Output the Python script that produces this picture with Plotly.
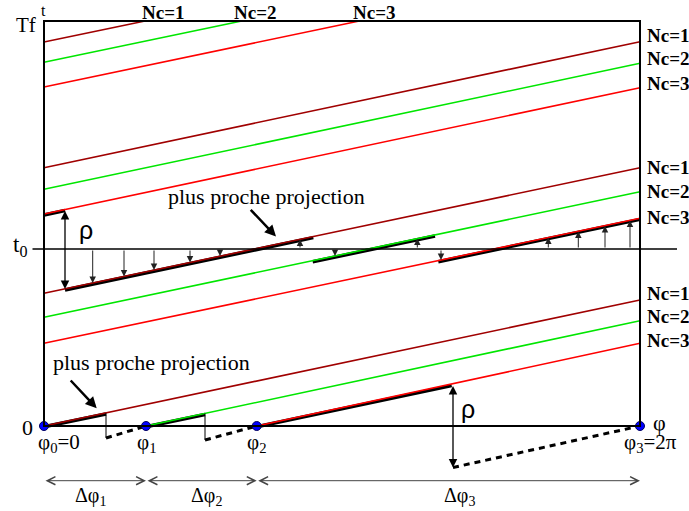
import plotly.graph_objects as go

# diagram units: phi runs 0..PHI_MAX (= 2 pi), t runs 0..TF
PHI_MAX = 596
TF = 405
T0 = 177

nc_names = ["Nc=1", "Nc=2", "Nc=3"]
nc_colors = ["#a00000", "#00e600", "#ff0000"]

# branches t(phi) for each Nc, they wrap round in t
line_nc = [0, 0, 0, 0, 1, 1, 1, 1, 2, 2, 2, 2]
line_phi_a = [0, 0, 0, 0, 102, 0, 0, 0, 212.7, 0, 0, 0]
line_t_a = [0, 132.7, 258.3, 384, 0, 108.7, 236.7, 363.7, 0, 82.7, 212, 339]
line_phi_b = [596, 596, 596, 101, 596, 596, 596, 197.7, 596, 596, 596, 315.3]
line_t_b = [126, 258.3, 384.3, 405, 105.3, 234.3, 362.7, 405, 82.7, 207.7, 338.3, 405]

# closest projection pieces (thick black, sitting just under the branch)
proj_phi_a = [0, 21, 268.7, 394.3, 0, 102, 212.7]
proj_t_a = [211, 136, 164.2, 164.3, -0.8, -0.8, -0.8]
proj_phi_b = [21, 269.3, 391, 596, 62, 161, 407.7]
proj_t_b = [215.5, 188.4, 190, 206.6, 12, 11.5, 40.4]

# small arrows from t0 to the projection
tick_phi = [48.7, 80, 110, 146, 176, 256, 291, 373.3, 397, 504.3, 534.3, 561, 586]
tick_t = [143, 149.5, 156, 163.5, 170, 186.5, 170, 187.5, 166, 188.5, 194.5, 200, 205.5]

# drops and dashed returns on the phi axis
drop_phi = [62, 161]
drop_t_top = [13, 12.5]
drop_t_bottom = [-12, -14]
dash_phi_a = [62, 161, 409]
dash_t_a = [-12, -14, -41.5]
dash_phi_b = [102, 212.7, 596]
dash_t_b = [0, 0, 0]

rho_phi = [21, 409]
rho_t_top = [216.5, 41.5]
rho_t_bottom = [137.1, -41.5]

phi_k = [0, 102, 212.7, 596]
phi_k_labels = ["φ<sub>0</sub>=0", "φ<sub>1</sub>", "φ<sub>2</sub>", "φ<sub>3</sub>=2π"]
phi_k_label_x = [14.5, 102, 212, 606]
dphi_labels = ["Δφ<sub>1</sub>", "Δφ<sub>2</sub>", "Δφ<sub>3</sub>"]
dphi_label_x = [46, 162, 415]

top_label_phi = [96, 188, 307]
right_label_nc = [0, 1, 2, 0, 1, 2, 0, 1, 2]
right_label_t = [391, 368, 343, 259, 234.5, 208.5, 133, 109.5, 86]

SERIF = "Liberation Serif, Times New Roman, serif"

fig = go.Figure()

for i in range(len(proj_phi_a)):
    fig.add_trace(go.Scatter(x=[proj_phi_a[i], proj_phi_b[i]], y=[proj_t_a[i], proj_t_b[i]],
                             mode="lines", line=dict(color="black", width=3.5)))

for i in range(len(line_nc)):
    fig.add_trace(go.Scatter(x=[line_phi_a[i], line_phi_b[i]], y=[line_t_a[i], line_t_b[i]],
                             mode="lines", line=dict(color=nc_colors[line_nc[i]], width=1.6)))

for i in range(len(drop_phi)):
    fig.add_trace(go.Scatter(x=[drop_phi[i], drop_phi[i]], y=[drop_t_top[i], drop_t_bottom[i]],
                             mode="lines", line=dict(color="black", width=1)))

for i in range(len(dash_phi_a)):
    fig.add_trace(go.Scatter(x=[dash_phi_a[i], dash_phi_b[i]], y=[dash_t_a[i], dash_t_b[i]],
                             mode="lines", line=dict(color="black", width=3, dash="6px,5px")))

# frame, t0 line, phi axis
fig.add_shape(type="rect", x0=0, y0=0, x1=PHI_MAX, y1=TF, line=dict(color="black", width=2))
fig.add_shape(type="line", x0=-11.5, y0=T0, x1=633, y1=T0, line=dict(color="black", width=1.6))

fig.add_trace(go.Scatter(x=phi_k, y=[0] * len(phi_k), mode="markers",
                         marker=dict(color="#0000ff", size=9, line=dict(color="#000060", width=1))))


def arrow(x, y, ax, ay, width=1.0, head=2, size=1.2, color="black", both=False):
    fig.add_annotation(x=x, y=y, ax=ax, ay=ay, xref="x", yref="y", axref="x", ayref="y",
                       text="", showarrow=True, arrowhead=head, arrowsize=size,
                       arrowwidth=width, arrowcolor=color,
                       arrowside="end+start" if both else "end",
                       startarrowhead=head, startarrowsize=size,
                       standoff=0, startstandoff=0)


for i in range(len(tick_phi)):
    arrow(tick_phi[i], tick_t[i], tick_phi[i], T0, width=1, size=1.3, color="#222")

for i in range(len(rho_phi)):
    arrow(rho_phi[i], rho_t_bottom[i], rho_phi[i], rho_t_top[i], width=1.3, size=1.3, both=True)

for i in range(3):
    arrow(phi_k[i + 1], -54.7, phi_k[i], -54.7, width=1, head=5, size=1.6, color="#444", both=True)
    fig.add_annotation(x=dphi_label_x[i], y=-70, text=dphi_labels[i], showarrow=False,
                       font=dict(family=SERIF, size=20, color="black"))

# "plus proche projection" pointers
arrow(232, 189.5, 205.3, 217.7, width=2.5, size=0.9)
arrow(52.7, 17.7, 25.3, 47, width=2.5, size=0.9)
fig.add_annotation(x=222.5, y=229.5, text="plus proche projection", showarrow=False,
                   font=dict(family=SERIF, size=22, color="black"))
fig.add_annotation(x=107, y=64, text="plus proche projection", showarrow=False,
                   font=dict(family=SERIF, size=22, color="black"))

for i in range(3):
    fig.add_annotation(x=top_label_phi[i], y=414, text="<b>" + nc_names[i] + "</b>", showarrow=False,
                       xanchor="left", font=dict(family=SERIF, size=19, color="black"))
for i in range(len(right_label_t)):
    fig.add_annotation(x=601, y=right_label_t[i], text="<b>" + nc_names[right_label_nc[i]] + "</b>",
                       showarrow=False, xanchor="left", font=dict(family=SERIF, size=19, color="black"))

for i in range(len(phi_k)):
    fig.add_annotation(x=phi_k_label_x[i], y=-17, text=phi_k_labels[i], showarrow=False,
                       font=dict(family=SERIF, size=21, color="black"))

fig.add_annotation(x=42, y=196.5, text="ρ", showarrow=False,
                   font=dict(family="Liberation Sans, Arial, sans-serif", size=25, color="black"))
fig.add_annotation(x=424, y=17.5, text="ρ", showarrow=False,
                   font=dict(family="Liberation Sans, Arial, sans-serif", size=25, color="black"))
fig.add_annotation(x=-18, y=401, text="Tf", showarrow=False, font=dict(family=SERIF, size=21, color="black"))
fig.add_annotation(x=-1, y=416, text="t", showarrow=False, font=dict(family=SERIF, size=16, color="black"))
fig.add_annotation(x=-24, y=180, text="t<sub>0</sub>", showarrow=False,
                   font=dict(family=SERIF, size=23, color="black"))
fig.add_annotation(x=-16.5, y=-1, text="0", showarrow=False, font=dict(family=SERIF, size=22, color="black"))
fig.add_annotation(x=615, y=4, text="φ", showarrow=False, font=dict(family=SERIF, size=22, color="black"))

fig.update_layout(width=689, height=511, margin=dict(l=0, r=0, t=0, b=0),
                  plot_bgcolor="white", paper_bgcolor="white", showlegend=False)
fig.update_xaxes(range=[-44, 645], visible=False, fixedrange=True)
fig.update_yaxes(range=[-85, 426], visible=False, fixedrange=True)

# drop the page's default body margin so the figure sits in the window corner
fig.write_html("out.html", config={"displayModeBar": False},
               post_script="document.body.style.margin = '0';")
